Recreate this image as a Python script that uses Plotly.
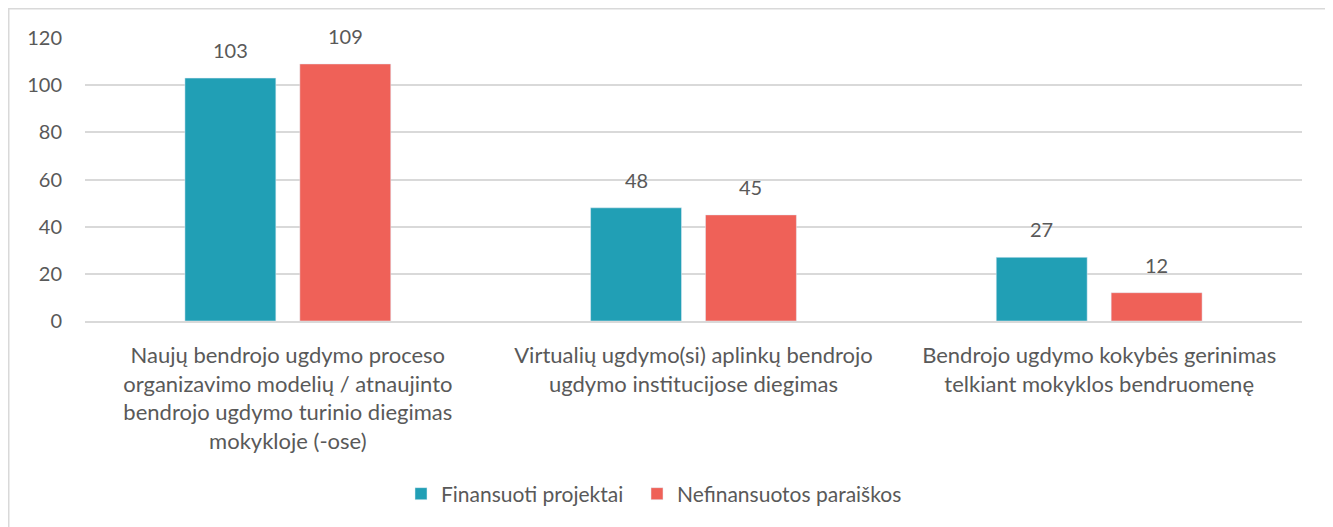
import plotly.graph_objects as go

categories = [
    "Naujų bendrojo ugdymo proceso<br>organizavimo modelių / atnaujinto<br>bendrojo ugdymo turinio diegimas<br>mokykloje (-ose)",
    "Virtualių ugdymo(si) aplinkų bendrojo<br>ugdymo institucijose diegimas",
    "Bendrojo ugdymo kokybės gerinimas<br>telkiant mokyklos bendruomenę",
]
finansuoti = [103, 48, 27]
nefinansuotos = [109, 45, 12]
series_names = ["Finansuoti projektai", "Nefinansuotos paraiškos"]
y_ticks = [0, 20, 40, 60, 80, 100, 120]

FONT = "Lato, Carlito, Calibri, sans-serif"
GRAY = "#595959"
COLORS = ["#219fb5", "#ef6158"]

W, H = 1333, 527
OFF = 8  # page body margin
# plot area in page pixels: x 85..1302, y 38..321
L = 85 - OFF
T = 38 - OFF
R = W - (1302 - OFF)
B = H - (321 - OFF)
pw, ph = W - L - R, H - T - B

BARGAP = 0.4335
BARGROUPGAP = 0.2087

def px_x(p):
    return (p - OFF - L) / pw

def px_y(p):
    return (H - B - (p - OFF)) / ph

fig = go.Figure()
legend_ids = ["legend", "legend2"]
for name, vals, col, lg in zip(series_names, [finansuoti, nefinansuotos], COLORS, legend_ids):
    fig.add_trace(go.Bar(x=categories, y=vals, name=name, marker_color=col, legend=lg))

# data labels
slot = pw / len(categories) * (1 - BARGAP) / 2
annotations = []
for i, vals in enumerate([finansuoti, nefinansuotos]):
    shift = (i - 0.5) * slot
    for c, v in zip(categories, vals):
        annotations.append(dict(x=c, y=v, xref="x", yref="y", text=str(v), showarrow=False,
                                xshift=shift, yshift=14, yanchor="bottom",
                                font=dict(size=20, color=GRAY, family=FONT)))

legend_common = dict(orientation="h", xanchor="left", y=px_y(494), yanchor="middle",
                     font=dict(size=21, color=GRAY), itemwidth=30)

fig.update_layout(
    width=W, height=H,
    margin=dict(l=L, r=R, t=T, b=B, autoexpand=False),
    paper_bgcolor="white", plot_bgcolor="white",
    font=dict(family=FONT, size=20, color=GRAY),
    barmode="group", bargap=BARGAP, bargroupgap=BARGROUPGAP,
    showlegend=True,
    legend=dict(x=px_x(401), **legend_common),
    legend2=dict(x=px_x(637), **legend_common),
    xaxis=dict(showgrid=False, showline=True, linecolor="#d9d9d9", linewidth=1.5,
               ticks="", tickfont=dict(size=22, color=GRAY), ticklabelstandoff=14,
               automargin=False),
    yaxis=dict(range=[0, 120], tickvals=y_ticks, showgrid=True, gridcolor="#d9d9d9",
               gridwidth=1.5, zeroline=False, showline=False, ticks="",
               tickfont=dict(size=20, color=GRAY), ticklabelstandoff=22,
               automargin=False),
    annotations=annotations,
    shapes=[dict(type="rect", xref="paper", yref="paper",
                 x0=px_x(8.75), x1=px_x(1330), y0=px_y(545), y1=px_y(8.75),
                 line=dict(color="#d9d9d9", width=1.5), fillcolor="rgba(0,0,0,0)", layer="below")],
)

fig.write_html("out.html")
